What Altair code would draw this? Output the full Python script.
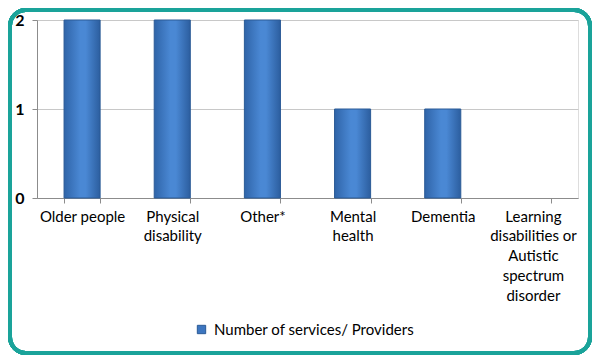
import altair as alt
import pandas as pd

categories = ["Older people", "Physical\ndisability", "Other*", "Mental\nhealth",
              "Dementia", "Learning\ndisabilities or\nAutistic\nspectrum\ndisorder"]
values = [2, 2, 2, 1, 1, 0]
series_name = "Number of services/ Providers"
y_ticks = [0, 1, 2]

df = pd.DataFrame({"category": categories, "value": values, "series": series_name})

FONT = "Lato"
W, H = 541, 178
PAD = {"left": 29, "top": 12, "right": 14, "bottom": 157}

gradient = alt.LinearGradient(
    gradient="linear", x1=0, x2=1, y1=0, y2=0,
    stops=[alt.GradientStop(offset=0, color="#2f64a8"),
           alt.GradientStop(offset=0.45, color="#4a88d4"),
           alt.GradientStop(offset=0.6, color="#4a88d4"),
           alt.GradientStop(offset=1, color="#2c5e9f")])

bars = alt.Chart(df).transform_filter("datum.value > 0").mark_bar(
    fill=gradient, stroke="#2a5a96", strokeWidth=1).encode(
    x=alt.X("category:N", sort=categories, title=None,
            scale=alt.Scale(domain=categories, paddingInner=0.6, paddingOuter=0.3),
            axis=alt.Axis(labelAngle=0, labelExpr="split(datum.label, '\\n')",
                          labelFont=FONT, labelFontSize=15, labelColor="#000000",
                          labelLineHeight=19.8, labelPadding=6, labelBaseline="top",
                          tickBand="extent", tickSize=5, tickColor="#8c8c8c",
                          domainColor="#8c8c8c", labelLimit=200)),
    y=alt.Y("value:Q", title=None,
            scale=alt.Scale(domain=[y_ticks[0], y_ticks[-1]], nice=False),
            axis=alt.Axis(tickCount=len(y_ticks) - 1, labelFont=FONT,
                          labelFontSize=16, labelFontWeight="bold", labelColor="#000000",
                          labelPadding=8, labelOverlap=False,
                          tickSize=5, tickColor="#8c8c8c", domainColor="#8c8c8c",
                          grid=True, gridColor="#c8c8c8")),
    color=alt.Color("series:N", scale=alt.Scale(domain=[series_name], range=["#3d76c0"]),
                    legend=alt.Legend(title=None, orient="none", legendX=157, legendY=302,
                                      symbolType="square", symbolSize=70,
                                      symbolStrokeColor="#2a5a96", symbolStrokeWidth=1,
                                      labelFont=FONT, labelFontSize=15, labelColor="#000000",
                                      labelOffset=5, labelLimit=400)),
)

frame = alt.Chart(df).mark_rect(fill=None, stroke="#1aa39a", strokeWidth=4,
                                 cornerRadius=16).encode(
    x=alt.value(-PAD["left"] + 2), x2=alt.value(W + PAD["right"] - 2),
    y=alt.value(-PAD["top"] + 2), y2=alt.value(H + PAD["bottom"] - 2),
)

chart = alt.layer(bars, frame).properties(
    width=W, height=H, padding=PAD,
    autosize=alt.AutoSizeParams(type="none"),
).configure_view(stroke=None).configure(background="white")

chart.save("out.html", embed_options={"renderer": "svg", "actions": False})
